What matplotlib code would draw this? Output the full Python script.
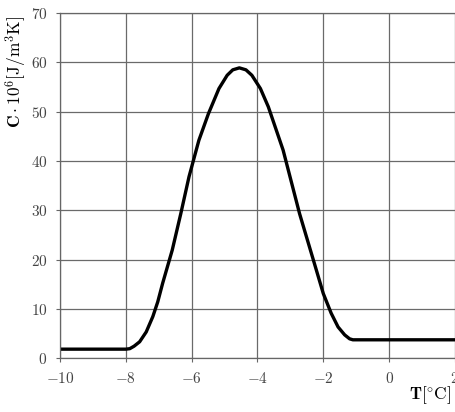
"""
Heat capacity C vs temperature T, read off the reference picture.
"""
import matplotlib
matplotlib.use("Agg")
import matplotlib.pyplot as plt

# values
T = [-10.0, -8.0, -7.88, -7.75, -7.58, -7.38, -7.18, -7.03, -6.88, -6.59,
     -6.33, -6.08, -5.78, -5.49, -5.17, -4.92, -4.75, -4.55, -4.35, -4.17,
     -3.91, -3.67, -3.22, -2.72, -2.27, -2.0, -1.76, -1.55, -1.35, -1.2,
     -1.10, 2.0]
C = [1.8, 1.8, 1.9, 2.4, 3.3, 5.3, 8.4, 11.4, 15.2, 21.9,
     29.3, 36.8, 44.2, 49.6, 54.7, 57.4, 58.5, 58.9, 58.5, 57.4,
     54.7, 51.0, 42.2, 29.3, 19.2, 13.1, 9.1, 6.3, 4.7, 3.9,
     3.7, 3.7]

x_ticks = [-10, -8, -6, -4, -2, 0, 2]
y_ticks = [0, 10, 20, 30, 40, 50, 60, 70]


def main():
    plt.rcParams.update({
        "font.family": "serif",
        "font.serif": ["DejaVu Serif"],
        "mathtext.fontset": "cm",
        "font.size": 10,
    })

    fig = plt.figure(figsize=(4.56, 4.12), dpi=100)
    ax = fig.add_axes([0.1316, 0.131, 0.866, 0.837])

    ax.plot(T, C, "-", color="black", linewidth=2.4, solid_joinstyle="round")

    ax.set_xlim(-10, 2)
    ax.set_ylim(0, 70)
    ax.set_xticks(x_ticks)
    ax.set_yticks(y_ticks)
    ax.set_xticklabels([f"${v}$" for v in x_ticks], fontsize=11, color="#444444")
    ax.set_yticklabels([f"${v}$" for v in y_ticks], fontsize=11, color="#444444")
    ax.tick_params(length=3, width=0.8, color="#666666", pad=6)
    ax.grid(True, color="#6a6a6a", linewidth=0.9)
    for s in ax.spines.values():
        s.set_color("#666666")
        s.set_linewidth(0.9)
    ax.spines["right"].set_visible(False)

    fig.text(0.035, 0.96, r"$\mathbf{C}\cdot 10^6[\mathrm{J/m^3K}]$",
             rotation=90, ha="center", va="top", fontsize=12.5)
    fig.text(0.99, 0.015, r"$\mathbf{T}[^{\circ}\mathrm{C}]$",
             ha="right", va="bottom", fontsize=12.5)

    fig.savefig("out.png", dpi=100)
    plt.close(fig)


if __name__ == "__main__":
    main()
